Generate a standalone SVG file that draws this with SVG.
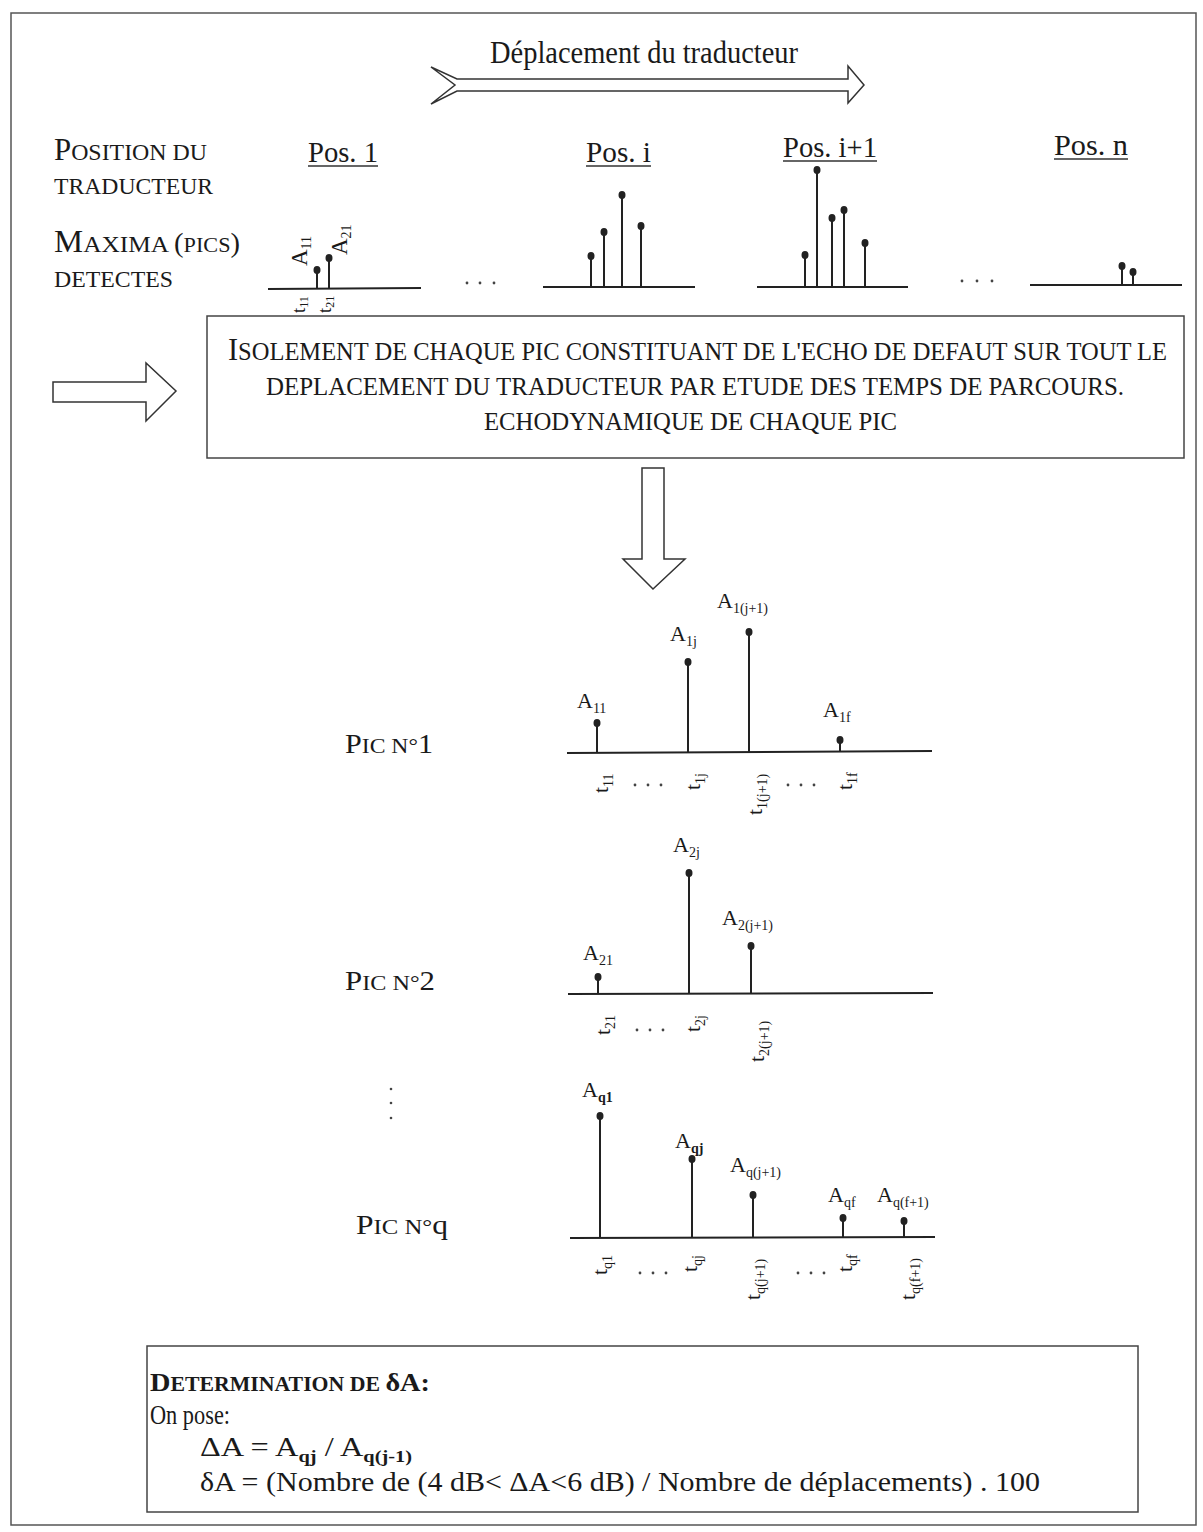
<svg xmlns="http://www.w3.org/2000/svg" width="1203" height="1532" viewBox="0 0 1203 1532">
<defs>
<style>
text{font-family:"Liberation Serif","Times New Roman",serif;fill:#1a1a1a}
.frame{fill:none;stroke:#555;stroke-width:1.5}
.box{fill:#fff;stroke:#444;stroke-width:1.5}
.arrow{fill:#fff;stroke:#333;stroke-width:1.5;stroke-linejoin:miter}
.axis{stroke:#222;stroke-width:2;fill:none}
.stem{stroke:#222;stroke-width:2}
.dot{fill:#222}
.sd{fill:#444}
.lbl{font-size:22px}
.sub{font-size:14px}
.subb{font-size:14px;font-weight:bold}
.sc{font-size:24px}
.big{font-size:31px}
.pos{font-size:30px}
.ul{stroke:#333;stroke-width:1.5}
</style>
</defs>
<rect width="1203" height="1532" fill="#fff"/>
<rect class="frame" x="11" y="13" width="1185" height="1512"/>

<g id="title">
<text x="490" y="63" font-size="31" textLength="308" lengthAdjust="spacingAndGlyphs">Déplacement du traducteur</text>
</g>

<g id="connectors">
<polygon class="arrow" points="431,67 457,79 848,79 848,66 864,85 848,103 848,91 457,91 431,104 455,85"/>
<polygon class="arrow" points="53,382 146,382 146,363 176,391 146,421 146,402 53,402"/>
<polygon class="arrow" points="642,468 664,468 664,559 685,559 653,589 623,559 642,559"/>
</g>

<g id="left-labels">
<text x="54" y="160" textLength="153" lengthAdjust="spacingAndGlyphs"><tspan class="big">P</tspan><tspan class="sc">OSITION DU</tspan></text>
<text x="54" y="194" class="sc" textLength="159" lengthAdjust="spacingAndGlyphs">TRADUCTEUR</text>
<text x="54" y="252" textLength="186" lengthAdjust="spacingAndGlyphs"><tspan class="big">M</tspan><tspan class="sc">AXIMA </tspan><tspan font-size="27">(</tspan><tspan font-size="21">PICS</tspan><tspan font-size="27">)</tspan></text>
<text x="54" y="287" class="sc" textLength="119" lengthAdjust="spacingAndGlyphs">DETECTES</text>
</g>

<g id="pos-labels">
<text class="pos" x="308" y="162" textLength="70" lengthAdjust="spacingAndGlyphs">Pos. 1</text>
<line class="ul" x1="308" y1="166" x2="378" y2="166"/>
<text class="pos" x="586" y="162" textLength="65" lengthAdjust="spacingAndGlyphs">Pos. i</text>
<line class="ul" x1="586" y1="166" x2="651" y2="166"/>
<text class="pos" x="783" y="157" textLength="94" lengthAdjust="spacingAndGlyphs">Pos. i+1</text>
<line class="ul" x1="783" y1="161" x2="877" y2="161"/>
<text class="pos" x="1054" y="155" textLength="74" lengthAdjust="spacingAndGlyphs">Pos. n</text>
<line class="ul" x1="1054" y1="159" x2="1128" y2="159"/>
</g>

<g id="pos1-peaks">
<line class="axis" x1="268" y1="289" x2="421" y2="288"/>
<line class="stem" x1="317" y1="288" x2="317" y2="270"/><ellipse class="dot" cx="317" cy="270" rx="3.5" ry="4"/>
<line class="stem" x1="329" y1="288" x2="329" y2="258"/><ellipse class="dot" cx="329" cy="258" rx="3.5" ry="4"/>
<text transform="translate(307,266) rotate(-90)" font-size="23">A<tspan class="sub" dy="4">11</tspan></text>
<text transform="translate(347,255) rotate(-90)" font-size="23">A<tspan class="sub" dy="4">21</tspan></text>
<text transform="translate(305,313) rotate(-90)" font-size="19">t<tspan font-size="12" dy="3">11</tspan></text>
<text transform="translate(331,313) rotate(-90)" font-size="19">t<tspan font-size="12" dy="3">21</tspan></text>
</g>
<g id="dots-a">
<circle class="sd" cx="467" cy="283" r="1.4"/><circle class="sd" cx="480" cy="283" r="1.4"/><circle class="sd" cx="494" cy="283" r="1.4"/>
<circle class="sd" cx="962" cy="281" r="1.4"/><circle class="sd" cx="977" cy="281" r="1.4"/><circle class="sd" cx="992" cy="281" r="1.4"/>
</g>
<g id="posi-peaks">
<line class="axis" x1="543" y1="287" x2="695" y2="287"/>
<line class="stem" x1="591" y1="287" x2="591" y2="256"/><ellipse class="dot" cx="591" cy="256" rx="3.5" ry="4"/>
<line class="stem" x1="604" y1="287" x2="604" y2="232"/><ellipse class="dot" cx="604" cy="232" rx="3.5" ry="4"/>
<line class="stem" x1="622" y1="287" x2="622" y2="195"/><ellipse class="dot" cx="622" cy="195" rx="3.5" ry="4"/>
<line class="stem" x1="641" y1="287" x2="641" y2="226"/><ellipse class="dot" cx="641" cy="226" rx="3.5" ry="4"/>
</g>
<g id="posi1-peaks">
<line class="axis" x1="757" y1="287" x2="908" y2="287"/>
<line class="stem" x1="805" y1="287" x2="805" y2="255"/><ellipse class="dot" cx="805" cy="255" rx="3.5" ry="4"/>
<line class="stem" x1="817" y1="287" x2="817" y2="170"/><ellipse class="dot" cx="817" cy="170" rx="3.5" ry="4"/>
<line class="stem" x1="832" y1="287" x2="832" y2="218"/><ellipse class="dot" cx="832" cy="218" rx="3.5" ry="4"/>
<line class="stem" x1="844" y1="287" x2="844" y2="210"/><ellipse class="dot" cx="844" cy="210" rx="3.5" ry="4"/>
<line class="stem" x1="865" y1="287" x2="865" y2="243"/><ellipse class="dot" cx="865" cy="243" rx="3.5" ry="4"/>
</g>
<g id="posn-peaks">
<line class="axis" x1="1030" y1="285" x2="1182" y2="285"/>
<line class="stem" x1="1122" y1="285" x2="1122" y2="266"/><ellipse class="dot" cx="1122" cy="266" rx="3.5" ry="4"/>
<line class="stem" x1="1133" y1="285" x2="1133" y2="272"/><ellipse class="dot" cx="1133" cy="272" rx="3.5" ry="4"/>
</g>

<g id="isolation-box">
<rect class="box" x="207" y="316" width="977" height="142"/>
<text x="228" y="360" textLength="939" lengthAdjust="spacingAndGlyphs"><tspan font-size="31">I</tspan><tspan font-size="25">SOLEMENT DE CHAQUE PIC CONSTITUANT DE L'ECHO DE DEFAUT SUR TOUT LE</tspan></text>
<text x="266" y="395" font-size="25" textLength="858" lengthAdjust="spacingAndGlyphs">DEPLACEMENT DU TRADUCTEUR PAR ETUDE DES TEMPS DE PARCOURS.</text>
<text x="484" y="430" font-size="25" textLength="413" lengthAdjust="spacingAndGlyphs">ECHODYNAMIQUE DE CHAQUE PIC</text>
</g>

<g id="pic1">
<text x="345" y="753" textLength="88" lengthAdjust="spacingAndGlyphs"><tspan font-size="28">P</tspan><tspan font-size="22">IC N°</tspan><tspan font-size="28">1</tspan></text>
<line class="axis" x1="567" y1="753" x2="932" y2="751"/>
<line class="stem" x1="597" y1="753" x2="597" y2="723"/><ellipse class="dot" cx="597" cy="723" rx="3.5" ry="4"/>
<line class="stem" x1="688" y1="752" x2="688" y2="662"/><ellipse class="dot" cx="688" cy="662" rx="3.5" ry="4"/>
<line class="stem" x1="749" y1="752" x2="749" y2="632"/><ellipse class="dot" cx="749" cy="632" rx="3.5" ry="4"/>
<line class="stem" x1="840" y1="751" x2="840" y2="740"/><ellipse class="dot" cx="840" cy="740" rx="3.5" ry="4"/>
<text class="lbl" x="577" y="708">A<tspan class="sub" dy="5">11</tspan></text>
<text class="lbl" x="670" y="641">A<tspan class="sub" dy="5">1j</tspan></text>
<text class="lbl" x="717" y="608">A<tspan class="sub" dy="5">1(j+1)</tspan></text>
<text class="lbl" x="823" y="717">A<tspan class="sub" dy="5">1f</tspan></text>
<text transform="translate(608,793) rotate(-90)" class="lbl">t<tspan class="sub" dy="5">11</tspan></text>
<text transform="translate(700,790) rotate(-90)" class="lbl">t<tspan class="sub" dy="5">1j</tspan></text>
<text transform="translate(762,815) rotate(-90)" class="lbl">t<tspan class="sub" dy="5">1(j+1)</tspan></text>
<text transform="translate(852,790) rotate(-90)" class="lbl">t<tspan class="sub" dy="5">1f</tspan></text>
<circle class="sd" cx="635" cy="785" r="1.4"/><circle class="sd" cx="648" cy="785" r="1.4"/><circle class="sd" cx="661" cy="785" r="1.4"/>
<circle class="sd" cx="788" cy="785" r="1.4"/><circle class="sd" cx="801" cy="785" r="1.4"/><circle class="sd" cx="814" cy="785" r="1.4"/>
</g>

<g id="pic2">
<text x="345" y="990" textLength="90" lengthAdjust="spacingAndGlyphs"><tspan font-size="28">P</tspan><tspan font-size="22">IC N°</tspan><tspan font-size="28">2</tspan></text>
<line class="axis" x1="568" y1="994" x2="933" y2="993"/>
<line class="stem" x1="598" y1="994" x2="598" y2="977"/><ellipse class="dot" cx="598" cy="977" rx="3.5" ry="4"/>
<line class="stem" x1="689" y1="994" x2="689" y2="873"/><ellipse class="dot" cx="689" cy="873" rx="3.5" ry="4"/>
<line class="stem" x1="751" y1="994" x2="751" y2="946"/><ellipse class="dot" cx="751" cy="946" rx="3.5" ry="4"/>
<text class="lbl" x="583" y="960">A<tspan class="sub" dy="5">21</tspan></text>
<text class="lbl" x="673" y="852">A<tspan class="sub" dy="5">2j</tspan></text>
<text class="lbl" x="722" y="925">A<tspan class="sub" dy="5">2(j+1)</tspan></text>
<text transform="translate(610,1035) rotate(-90)" class="lbl">t<tspan class="sub" dy="5">21</tspan></text>
<text transform="translate(700,1032) rotate(-90)" class="lbl">t<tspan class="sub" dy="5">2j</tspan></text>
<text transform="translate(764,1062) rotate(-90)" class="lbl">t<tspan class="sub" dy="5">2(j+1)</tspan></text>
<circle class="sd" cx="637" cy="1030" r="1.4"/><circle class="sd" cx="650" cy="1030" r="1.4"/><circle class="sd" cx="663" cy="1030" r="1.4"/>
</g>

<g id="vdots">
<circle class="sd" cx="391" cy="1089" r="1.3"/><circle class="sd" cx="391" cy="1103" r="1.3"/><circle class="sd" cx="391" cy="1118" r="1.3"/>
</g>

<g id="picq">
<text x="356" y="1234" textLength="92" lengthAdjust="spacingAndGlyphs"><tspan font-size="28">P</tspan><tspan font-size="22">IC N°</tspan><tspan font-size="28">q</tspan></text>
<line class="axis" x1="570" y1="1238" x2="935" y2="1237"/>
<line class="stem" x1="600" y1="1238" x2="600" y2="1116"/><ellipse class="dot" cx="600" cy="1116" rx="3.5" ry="4"/>
<line class="stem" x1="692" y1="1238" x2="692" y2="1159"/><ellipse class="dot" cx="692" cy="1159" rx="3.5" ry="4"/>
<line class="stem" x1="753" y1="1238" x2="753" y2="1195"/><ellipse class="dot" cx="753" cy="1195" rx="3.5" ry="4"/>
<line class="stem" x1="843" y1="1237" x2="843" y2="1218"/><ellipse class="dot" cx="843" cy="1218" rx="3.5" ry="4"/>
<line class="stem" x1="904" y1="1237" x2="904" y2="1221"/><ellipse class="dot" cx="904" cy="1221" rx="3.5" ry="4"/>
<text class="lbl" x="582" y="1097">A<tspan class="subb" dy="5">q1</tspan></text>
<text class="lbl" x="675" y="1148">A<tspan class="subb" dy="5">qj</tspan></text>
<text class="lbl" x="730" y="1172">A<tspan class="sub" dy="5">q(j+1)</tspan></text>
<text class="lbl" x="828" y="1202">A<tspan class="sub" dy="5">qf</tspan></text>
<text class="lbl" x="877" y="1202">A<tspan class="sub" dy="5">q(f+1)</tspan></text>
<text transform="translate(607,1275) rotate(-90)" class="lbl">t<tspan class="sub" dy="5">q1</tspan></text>
<text transform="translate(697,1272) rotate(-90)" class="lbl">t<tspan class="sub" dy="5">qj</tspan></text>
<text transform="translate(760,1300) rotate(-90)" class="lbl">t<tspan class="sub" dy="5">q(j+1)</tspan></text>
<text transform="translate(852,1272) rotate(-90)" class="lbl">t<tspan class="sub" dy="5">qf</tspan></text>
<text transform="translate(915,1300) rotate(-90)" class="lbl">t<tspan class="sub" dy="5">q(f+1)</tspan></text>
<circle class="sd" cx="640" cy="1273" r="1.4"/><circle class="sd" cx="653" cy="1273" r="1.4"/><circle class="sd" cx="666" cy="1273" r="1.4"/>
<circle class="sd" cx="798" cy="1273" r="1.4"/><circle class="sd" cx="811" cy="1273" r="1.4"/><circle class="sd" cx="824" cy="1273" r="1.4"/>
</g>

<g id="delta-box">
<rect class="box" x="147" y="1346" width="991" height="166"/>
<text x="150" y="1391" font-weight="bold" textLength="280" lengthAdjust="spacingAndGlyphs"><tspan font-size="26">D</tspan><tspan font-size="20">ETERMINATION DE </tspan><tspan font-size="26">δA:</tspan></text>
<text x="150" y="1424" font-size="27" textLength="80" lengthAdjust="spacingAndGlyphs">On pose:</text>
<text x="200" y="1456" font-size="27" textLength="212" lengthAdjust="spacingAndGlyphs">ΔA = A<tspan font-size="17" font-weight="bold" dy="6">qj</tspan><tspan dy="-6"> / A</tspan><tspan font-size="17" font-weight="bold" dy="6">q(j-1)</tspan></text>
<text x="200" y="1491" font-size="27" textLength="840" lengthAdjust="spacingAndGlyphs">δA = (Nombre de (4 dB&lt; ΔA&lt;6 dB) / Nombre de déplacements) . 100</text>
</g>
</svg>
